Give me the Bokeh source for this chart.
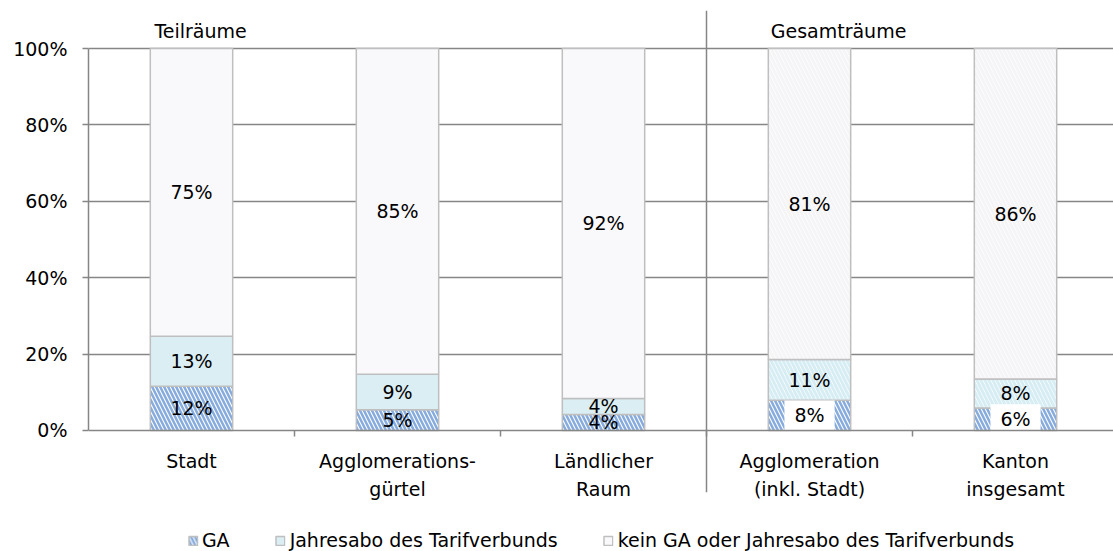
import numpy as np
from bokeh.plotting import figure
from bokeh.models import Range1d, FixedTicker, ColumnDataSource, Legend, LegendItem
from bokeh.core.properties import value
from bokeh.embed import file_html
from bokeh.resources import INLINE

# ---------------- data ----------------
categories = ["Stadt", "Agglomerations-\ngürtel", "Ländlicher\nRaum",
              "Agglomeration\n(inkl. Stadt)", "Kanton\ninsgesamt"]
group_titles = ["Teilräume", "Gesamträume"]
group_sizes = [3, 2]
series_names = ["GA", "Jahresabo des Tarifverbunds",
                "kein GA oder Jahresabo des Tarifverbunds"]
ga = [11.6, 5.4, 4.2, 7.9, 5.9]
jahresabo = [13.1, 9.3, 4.2, 10.7, 7.6]
kein = [75.3, 85.3, 91.6, 81.4, 86.5]
ga_labels = ["12%", "5%", "4%", "8%", "6%"]
ja_labels = ["13%", "9%", "4%", "11%", "8%"]
kein_labels = ["75%", "85%", "92%", "81%", "86%"]
y_ticks = [0, 20, 40, 60, 80, 100]

FONT = "DejaVu Sans"
FS = "19px"
AXIS_C = "#868686"
BAR_LINE = "#bfbfbf"
GA_HATCH = "#86abdc"

x = np.arange(len(categories)) + 0.5
ga_a = np.array(ga)
ja_a = np.array(jahresabo)
kein_a = np.array(kein)
b1 = ga_a
b2 = ga_a + ja_a
b3 = b2 + kein_a

src = ColumnDataSource(dict(
    x=x, ga0=np.zeros(len(x)), ga1=b1, ja1=b2, ke1=b3,
    ga_c=b1 / 2, ja_c=(b1 + b2) / 2, ke_c=(b2 + b3) / 2,
    ga_l=ga_labels, ja_l=ja_labels, ke_l=kein_labels,
))
n_teil = group_sizes[0]
src_t = ColumnDataSource({k: list(v[:n_teil]) for k, v in src.data.items()})
src_g = ColumnDataSource({k: list(v[n_teil:]) for k, v in src.data.items()})

p = figure(width=1113, height=551, output_backend="svg", toolbar_location=None,
           x_range=Range1d(0, 4.9757), y_range=Range1d(-31.68, 112.57),
           min_border_left=88, min_border_right=0, min_border_top=0,
           min_border_bottom=0, x_axis_location="below")
p.outline_line_color = None
p.background_fill_color = "white"

# grid
p.xgrid.visible = False
p.ygrid.ticker = FixedTicker(ticks=y_ticks[1:])
p.ygrid.grid_line_color = AXIS_C
p.ygrid.grid_line_width = 1.5

# y axis
ya = p.yaxis[0]
ya.ticker = FixedTicker(ticks=y_ticks)
ya.bounds = (0, 100)
ya.major_label_overrides = {t: f"{t}%" for t in y_ticks}
ya.major_tick_out = 6
ya.major_tick_in = 0
ya.minor_tick_out = 0
ya.minor_tick_in = 0
ya.axis_line_color = AXIS_C
ya.axis_line_width = 1.5
ya.major_tick_line_color = AXIS_C
ya.major_tick_line_width = 1.5
ya.major_label_text_font = FONT
ya.major_label_text_font_size = FS
ya.major_label_text_color = "black"
ya.major_label_standoff = 15

# x axis
xa = p.xaxis[0]
xa.fixed_location = 0
xa.ticker = FixedTicker(ticks=list(x), minor_ticks=list(range(1, len(categories))))
xa.major_label_overrides = {float(xx): c for xx, c in zip(x, categories)}
xa.major_tick_out = 0
xa.major_tick_in = 0
xa.minor_tick_out = 6
xa.minor_tick_in = 0
xa.minor_tick_line_color = AXIS_C
xa.minor_tick_line_width = 1.5
xa.axis_line_color = AXIS_C
xa.axis_line_width = 1.5
xa.major_label_text_font = FONT
xa.major_label_text_font_size = FS
xa.major_label_text_color = "black"
xa.major_label_standoff = 14
xa.major_label_text_align = "center"
xa.major_label_text_line_height = 1.25

W = 0.4
HATCH = "left_diagonal_line"
# Teilräume bars
r_ga = p.vbar(x="x", bottom="ga0", top="ga1", width=W, source=src_t,
              fill_color="white", hatch_pattern=HATCH, hatch_color=GA_HATCH,
              hatch_scale=8, hatch_weight=2.5, line_color=BAR_LINE, line_width=1.5)
r_ja = p.vbar(x="x", bottom="ga1", top="ja1", width=W, source=src_t,
              fill_color="#daeef3", line_color=BAR_LINE, line_width=1.5)
r_ke = p.vbar(x="x", bottom="ja1", top="ke1", width=W, source=src_t,
              fill_color="#f9f9fc", line_color=BAR_LINE, line_width=1.5)
# Gesamträume bars (hatched variants)
p.vbar(x="x", bottom="ga0", top="ga1", width=W, source=src_g,
       fill_color="white", hatch_pattern=HATCH, hatch_color=GA_HATCH,
       hatch_scale=8, hatch_weight=2.5, line_color=BAR_LINE, line_width=1.5)
p.vbar(x="x", bottom="ga1", top="ja1", width=W, source=src_g,
       fill_color="white", hatch_pattern=HATCH, hatch_color="#d7edf4",
       hatch_scale=8, hatch_weight=3, line_color=BAR_LINE, line_width=1.5)
p.vbar(x="x", bottom="ja1", top="ke1", width=W, source=src_g,
       fill_color="white", hatch_pattern=HATCH, hatch_color="#f5f5f7",
       hatch_scale=8, hatch_weight=3, line_color=BAR_LINE, line_width=1.5)

# value labels
lab_kw = dict(text_font=value(FONT), text_font_size=FS, text_color="black",
              text_align="center", text_baseline="middle")
p.text(x="x", y="ja_c", text="ja_l", source=src, **lab_kw)
p.text(x="x", y="ke_c", text="ke_l", source=src, **lab_kw)
p.text(x="x", y="ga_c", text="ga_l", source=src_t, **lab_kw)
p.text(x="x", y="ga_c", text="ga_l", source=src_g,
       background_fill_color="white",
       padding=dict(left=10, right=10, top=4, bottom=4), **lab_kw)

# separator between groups
sep = float(group_sizes[0])
p.segment(x0=[sep], y0=[-16.2], x1=[sep], y1=[109.9], line_color=AXIS_C, line_width=1.5)

# group titles
p.text(x=[0.544, 3.641], y=[104.7, 104.7], text=group_titles,
       text_font=value(FONT), text_font_size=FS, text_color="black",
       text_align="center", text_baseline="alphabetic")

# legend
lg = Legend(items=[LegendItem(label=n, renderers=[r])
                   for n, r in zip(series_names, [r_ga, r_ja, r_ke])],
            location="bottom_center", orientation="horizontal",
            padding=0, margin=0, spacing=45,
            glyph_width=11, glyph_height=11, label_standoff=4,
            label_text_font=FONT, label_text_font_size=FS,
            label_text_color="black", border_line_color=None,
            background_fill_alpha=0)
p.add_layout(lg, "center")

open("out.html", "w").write(file_html(p, INLINE))
